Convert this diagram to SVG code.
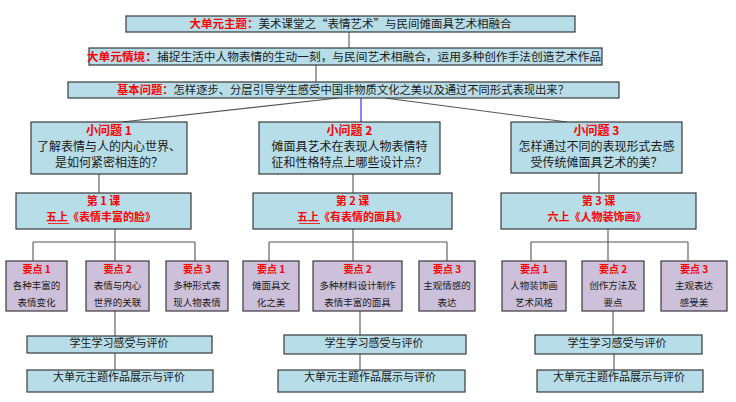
<svg xmlns="http://www.w3.org/2000/svg" width="736" height="402" viewBox="0 0 736 402">
<style>
text{font-family:"Noto Sans CJK SC","Liberation Sans",sans-serif;fill:#1a1a1a;}
.b{fill:#b7dde8;stroke:#3a3a3a;stroke-width:1.2;}
.p{fill:#ccc0da;stroke:#3a3a3a;stroke-width:1.2;}
.r{fill:#ff0000;font-weight:bold;}
.h{font-size:11.5px;}
.q{font-size:12px;text-anchor:middle;}
.l{font-size:11px;text-anchor:middle;}
.k{font-size:9.5px;text-anchor:middle;}
.kt{font-size:10px;text-anchor:middle;}
.s{font-size:11px;text-anchor:middle;}
.c line{stroke:#555;stroke-width:1.1;}
</style>
<rect width="736" height="402" fill="#ffffff"/>
<g class="c" id="connectors">
<line x1="349" y1="32" x2="349" y2="48"/>
<line x1="316" y1="65" x2="316" y2="82"/>
<line x1="338" y1="98" x2="122" y2="122"/>
<line x1="385" y1="98" x2="567" y2="122"/>
<line x1="361" y1="98" x2="361" y2="122" style="stroke:#2222ee"/>
<line x1="99" y1="174" x2="99" y2="193"/>
<line x1="353" y1="174" x2="353" y2="193"/>
<line x1="599" y1="173" x2="599" y2="193"/>
<line x1="115" y1="229" x2="115" y2="242"/>
<line x1="33" y1="242" x2="195" y2="242"/>
<line x1="33" y1="242" x2="33" y2="261"/>
<line x1="115" y1="242" x2="115" y2="261"/>
<line x1="195" y1="242" x2="195" y2="261"/>
<line x1="353" y1="229" x2="353" y2="242"/>
<line x1="269" y1="242" x2="447" y2="242"/>
<line x1="269" y1="242" x2="269" y2="261"/>
<line x1="353" y1="242" x2="353" y2="261"/>
<line x1="447" y1="242" x2="447" y2="261"/>
<line x1="608" y1="229" x2="608" y2="242"/>
<line x1="531" y1="242" x2="688" y2="242"/>
<line x1="531" y1="242" x2="531" y2="261"/>
<line x1="608" y1="242" x2="608" y2="261"/>
<line x1="688" y1="242" x2="688" y2="261"/>
<line x1="115" y1="311" x2="115" y2="336"/>
<line x1="115" y1="353" x2="115" y2="370"/>
<line x1="360" y1="311" x2="360" y2="335"/>
<line x1="360" y1="354" x2="360" y2="370"/>
<line x1="613" y1="311" x2="613" y2="335"/>
<line x1="614" y1="354" x2="614" y2="370"/>
</g>
<g id="theme">
<rect class="b" x="126" y="16" width="449" height="16"/>
<text class="h" x="350.5" y="28" text-anchor="middle"><tspan class="r">大单元主题：</tspan>美术课堂之“表情艺术”与民间傩面具艺术相融合</text>
</g>
<g id="situation">
<rect class="b" x="89" y="48" width="513" height="17"/>
<text class="h" x="344" y="61" text-anchor="middle" style="font-size:11.7px"><tspan class="r">大单元情境：</tspan>捕捉生活中人物表情的生动一刻，与民间艺术相融合，运用多种创作手法创造艺术作品</text>
</g>
<g id="basic">
<rect class="b" x="68" y="82" width="551" height="16"/>
<text class="h" x="343" y="94" text-anchor="middle" style="font-size:11.3px"><tspan class="r">基本问题：</tspan>怎样逐步、分层引导学生感受中国非物质文化之美以及通过不同形式表现出来？</text>
</g>
<g id="q1">
<rect class="b" x="31" y="122" width="156" height="52"/>
<text class="q r" x="109" y="135">小问题 1</text>
<text class="q" x="109" y="151">了解表情与人的内心世界、</text>
<text class="q" x="109" y="166.5">是如何紧密相连的？</text>
</g>
<g id="q2">
<rect class="b" x="259" y="122" width="181" height="52"/>
<text class="q r" x="349.5" y="135">小问题 2</text>
<text class="q" x="349.5" y="151">傩面具艺术在表现人物表情特</text>
<text class="q" x="349.5" y="166.5">征和性格特点上哪些设计点？</text>
</g>
<g id="q3">
<rect class="b" x="511" y="122" width="171" height="51"/>
<text class="q r" x="596.5" y="135">小问题 3</text>
<text class="q" x="596.5" y="151">怎样通过不同的表现形式去感</text>
<text class="q" x="596.5" y="166.5">受传统傩面具艺术的美？</text>
</g>
<g id="lesson1">
<rect class="b" x="16" y="193" width="175" height="36"/>
<text class="l r" x="103.5" y="205">第 1 课</text>
<text class="l r" x="101" y="221">五上《表情丰富的脸》</text>
<line x1="48" y1="223.5" x2="69" y2="223.5" stroke="#ff0000" stroke-width="0.8"/>
</g>
<g id="lesson2">
<rect class="b" x="253" y="193" width="199" height="36"/>
<text class="l r" x="352.5" y="205">第 2 课</text>
<text class="l r" x="352" y="221">五上《有表情的面具》</text>
<line x1="299" y1="223.5" x2="320" y2="223.5" stroke="#ff0000" stroke-width="0.8"/>
</g>
<g id="lesson3">
<rect class="b" x="501" y="193" width="195" height="36"/>
<text class="l r" x="598.5" y="205">第 3 课</text>
<text class="l r" x="597" y="221">六上《人物装饰画》</text>
</g>
<g id="kp1-1"><rect class="p" x="6" y="261" width="61" height="50"/><text class="kt r" x="36.5" y="272.5">要点 1</text><text class="k" x="36.5" y="288.5">各种丰富的</text><text class="k" x="36.5" y="305.5">表情变化</text></g>
<g id="kp1-2"><rect class="p" x="86" y="261" width="63" height="50"/><text class="kt r" x="117.5" y="272.5">要点 2</text><text class="k" x="117.5" y="288.5">表情与内心</text><text class="k" x="117.5" y="305.5">世界的关联</text></g>
<g id="kp1-3"><rect class="p" x="166" y="261" width="62" height="50"/><text class="kt r" x="197" y="272.5">要点 3</text><text class="k" x="197" y="288.5">多种形式表</text><text class="k" x="197" y="305.5">现人物表情</text></g>
<g id="kp2-1"><rect class="p" x="243" y="261" width="56" height="50"/><text class="kt r" x="271" y="272.5">要点 1</text><text class="k" x="271" y="288.5">傩面具文</text><text class="k" x="271" y="305.5">化之美</text></g>
<g id="kp2-2"><rect class="p" x="313" y="261" width="89" height="50"/><text class="kt r" x="357.5" y="272.5">要点 2</text><text class="k" x="357.5" y="288.5">多种材料设计制作</text><text class="k" x="357.5" y="305.5">表情丰富的面具</text></g>
<g id="kp2-3"><rect class="p" x="419" y="261" width="56" height="50"/><text class="kt r" x="447" y="272.5">要点 3</text><text class="k" x="447" y="288.5">主观情感的</text><text class="k" x="447" y="305.5">表达</text></g>
<g id="kp3-1"><rect class="p" x="502" y="261" width="64" height="50"/><text class="kt r" x="534" y="272.5">要点 1</text><text class="k" x="534" y="288.5">人物装饰画</text><text class="k" x="534" y="305.5">艺术风格</text></g>
<g id="kp3-2"><rect class="p" x="582" y="261" width="62" height="50"/><text class="kt r" x="613" y="272.5">要点 2</text><text class="k" x="613" y="288.5">创作方法及</text><text class="k" x="613" y="305.5">要点</text></g>
<g id="kp3-3"><rect class="p" x="661" y="261" width="66" height="50"/><text class="kt r" x="694" y="272.5">要点 3</text><text class="k" x="694" y="288.5">主观表达</text><text class="k" x="694" y="305.5">感受美</text></g>
<g id="eval1"><rect class="b" x="27" y="336" width="185" height="17"/><text class="s" x="119" y="346.5">学生学习感受与评价</text></g>
<g id="eval2"><rect class="b" x="284" y="335" width="182" height="19"/><text class="s" x="374" y="346.5">学生学习感受与评价</text></g>
<g id="eval3"><rect class="b" x="535" y="335" width="167" height="19"/><text class="s" x="617" y="346.5">学生学习感受与评价</text></g>
<g id="show1"><rect class="b" x="27" y="370" width="186" height="22"/><text class="s" x="119" y="381">大单元主题作品展示与评价</text></g>
<g id="show2"><rect class="b" x="278" y="370" width="187" height="22"/><text class="s" x="370" y="381">大单元主题作品展示与评价</text></g>
<g id="show3"><rect class="b" x="537" y="370" width="166" height="22"/><text class="s" x="619" y="381">大单元主题作品展示与评价</text></g>
</svg>
